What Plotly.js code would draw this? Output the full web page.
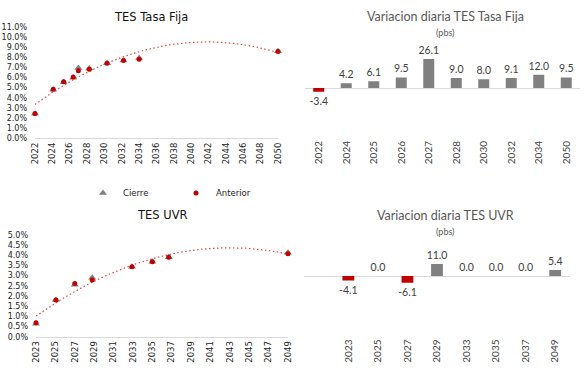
<!DOCTYPE html>
<html><head><meta charset="utf-8">
<script src="https://cdn.plot.ly/plotly-3.0.1.min.js"></script>
<style>html,body{margin:0;padding:0;background:#fff}#c{width:586px;height:381px}</style>
</head><body><div id="c"></div>
<script>
// TES Tasa Fija (curve)
const tfYears   = [2022.0, 2024.1, 2025.3, 2026.4, 2027.0, 2028.25, 2030.3, 2032.2, 2034.0, 2050.0];
const tfCierre  = [2.41, 4.78, 5.52, 5.97, 6.93, 6.88, 7.40, 7.68, 7.91, 8.58];
const tfAnterior= [2.44, 4.84, 5.58, 6.03, 6.67, 6.80, 7.40, 7.66, 7.79, 8.55];
// TES UVR (curve)
const uvYears   = [2023.0, 2025.05, 2027.0, 2028.8, 2032.9, 2035.0, 2036.7, 2049.0];
const uvCierre  = [0.64, 1.80, 2.55, 2.90, 3.44, 3.68, 3.91, 4.13];
const uvAnterior= [0.68, 1.80, 2.61, 2.79, 3.44, 3.68, 3.91, 4.08];
// Daily change (pbs)
const tfCats  = ['2022','2024','2025','2026','2027','2028','2030','2032','2034','2050'];
const tfDelta = [-3.4, 4.2, 6.1, 9.5, 26.1, 9.0, 8.0, 9.1, 12.0, 9.5];
const uvCats  = ['2023','2025','2027','2029','2033','2035','2037','2049'];
const uvDelta = [-4.1, 0.0, -6.1, 11.0, 0.0, 0.0, 0.0, 5.4];
const tfTicks = [2022,2024,2026,2028,2030,2032,2034,2036,2038,2040,2042,2044,2046,2048,2050];
const uvTicks = [2023,2025,2027,2029,2031,2033,2035,2037,2039,2041,2043,2045,2047,2049];

const GRAY='#808080', RED='#C00000', TXT='#404040';
const FL='DejaVu Sans', FR='Lato';

// quadratic least-squares trendline (like Excel polynomial order 2)
function polyFit2(xs, ys){
  const n=xs.length, m=xs.reduce((a,b)=>a+b,0)/n;
  let S=[0,0,0,0,0], T=[0,0,0];
  xs.forEach((x,i)=>{const u=x-m;let p=1;for(let k=0;k<5;k++){S[k]+=p;if(k<3)T[k]+=p*ys[i];p*=u;}});
  const A=[[S[0],S[1],S[2]],[S[1],S[2],S[3]],[S[2],S[3],S[4]]];
  const det=M=>M[0][0]*(M[1][1]*M[2][2]-M[1][2]*M[2][1])-M[0][1]*(M[1][0]*M[2][2]-M[1][2]*M[2][0])+M[0][2]*(M[1][0]*M[2][1]-M[1][1]*M[2][0]);
  const D=det(A), c=[];
  for(let j=0;j<3;j++){const B=A.map((r,i)=>r.map((v,k)=>k===j?T[i]:v));c.push(det(B)/D);}
  return x=>{const u=x-m;return c[0]+c[1]*u+c[2]*u*u;};
}
function trend(xs, ys, x0, x1){
  const f=polyFit2(xs,ys), X=[], Y=[];
  for(let i=0;i<=100;i++){const x=x0+(x1-x0)*i/100;X.push(x);Y.push(f(x));}
  return {X,Y};
}
const t1=trend(tfYears,tfCierre,tfYears[0],tfYears[tfYears.length-1]);
const t3=trend(uvYears,uvCierre,uvYears[0],uvYears[uvYears.length-1]);

const tri={symbol:'triangle-up',size:7,color:GRAY};
const dot={symbol:'circle',size:5,color:RED};
const TL={color:'#dc4a4a',width:1.2,dash:'1.5px,2.5px'};
const traces=[
 {x:t1.X,y:t1.Y,mode:'lines',line:TL,showlegend:false,hoverinfo:'skip',xaxis:'x',yaxis:'y',cliponaxis:false},
 {x:tfYears,y:tfCierre,mode:'markers',name:'Cierre',marker:tri,xaxis:'x',yaxis:'y',cliponaxis:false},
 {x:tfYears,y:tfAnterior,mode:'markers',name:'Anterior',marker:dot,xaxis:'x',yaxis:'y',cliponaxis:false},
 {x:t3.X,y:t3.Y,mode:'lines',line:TL,showlegend:false,hoverinfo:'skip',xaxis:'x3',yaxis:'y3',cliponaxis:false},
 {x:uvYears,y:uvCierre,mode:'markers',name:'Cierre',marker:tri,showlegend:false,xaxis:'x3',yaxis:'y3',cliponaxis:false},
 {x:uvYears,y:uvAnterior,mode:'markers',name:'Anterior',marker:dot,showlegend:false,xaxis:'x3',yaxis:'y3',cliponaxis:false},
 {type:'bar',x:tfCats,y:tfDelta,marker:{color:tfDelta.map(v=>v<0?RED:GRAY)},text:tfDelta.map(v=>v.toFixed(1)),
  textposition:'outside',textfont:{family:FR,size:10.5,color:TXT},cliponaxis:false,constraintext:'none',showlegend:false,xaxis:'x2',yaxis:'y2'},
 {type:'bar',x:uvCats,y:uvDelta,marker:{color:uvDelta.map(v=>v<0?RED:GRAY)},text:uvDelta.map(v=>v.toFixed(1)),
  textposition:'outside',textfont:{family:FR,size:10.5,color:TXT},cliponaxis:false,constraintext:'none',showlegend:false,xaxis:'x4',yaxis:'y4'}
];
const W=586,H=381;
const fx=p=>p/W, fy=p=>1-p/H;
const scatX=(d,ticks,a)=>({domain:d,anchor:a,range:[ticks[0],ticks[ticks.length-1]],tickvals:ticks,ticktext:ticks.map(String),tickangle:-90,
  showgrid:false,zeroline:false,showline:true,linecolor:'#d9d9d9',linewidth:1,ticks:'',tickfont:{family:FL,size:8.5,color:'#222'}});
const scatY=(d,r,dt,a)=>({domain:d,anchor:a,range:r,dtick:dt,tick0:0,tickformat:'.1f',ticksuffix:'%',showgrid:false,zeroline:false,showline:false,
  ticks:'',ticklabelstandoff:7,tickfont:{family:FL,size:8,color:'#222'}});
const barX=(d,r,a)=>({domain:d,anchor:a,range:r,type:'category',tickangle:-90,showgrid:false,zeroline:false,showline:false,ticks:'',
  tickfont:{family:FR,size:10,color:TXT}});
const barY=(d,r,a)=>({domain:d,anchor:a,range:r,showgrid:false,zeroline:true,zerolinecolor:'#d9d9d9',zerolinewidth:1,showticklabels:false,showline:false,ticks:''});
const ann=(t,x,y,s,f,c)=>({text:t,x:fx(x),y:fy(y),xref:'paper',yref:'paper',showarrow:false,xanchor:'center',yanchor:'middle',font:{family:f,size:s,color:c}});
const layout={
 width:W,height:H,margin:{l:0,r:0,t:0,b:0},paper_bgcolor:'#fff',plot_bgcolor:'rgba(0,0,0,0)',bargap:0.6,
 xaxis:scatX([fx(35),fx(278)],tfTicks,'y'), yaxis:scatY([fy(138.3),fy(26.7)],[0,11],1,'x'),
 xaxis3:scatX([fx(36),fx(288)],uvTicks,'y3'), yaxis3:scatY([fy(336.7),fy(235)],[0,5],0.5,'x3'),
 xaxis2:barX([fx(305),fx(580)],[-0.5,9.5],'y2'), yaxis2:barY([fy(138),fy(54.7)],[-45,30],'x2'),
 xaxis4:barX([fx(304),fx(570)],[-1.5,7.5],'y4'), yaxis4:barY([fy(336.5),fy(248.5)],[-55,25],'x4'),
 showlegend:true,
 legend:{orientation:'h',x:fx(83),y:fy(193),xanchor:'left',yanchor:'middle',font:{family:FL,size:8.5,color:'#222'},entrywidth:48,bgcolor:'rgba(0,0,0,0)'},
 annotations:[
  ann('TES Tasa Fija',151,17,11.5,FL,'#111'),
  ann('TES UVR',162,215,11.5,FL,'#111'),
  ann('Variacion diaria TES Tasa Fija',445,16,12.5,FR,'#595959'),
  ann('(pbs)',445,32,9,FR,'#595959'),
  ann('Variacion diaria TES UVR',445,215,12.5,FR,'#595959'),
  ann('(pbs)',445,231,9,FR,'#595959')
 ]
};
Plotly.newPlot('c',traces,layout,{staticPlot:true});
</script></body></html>
